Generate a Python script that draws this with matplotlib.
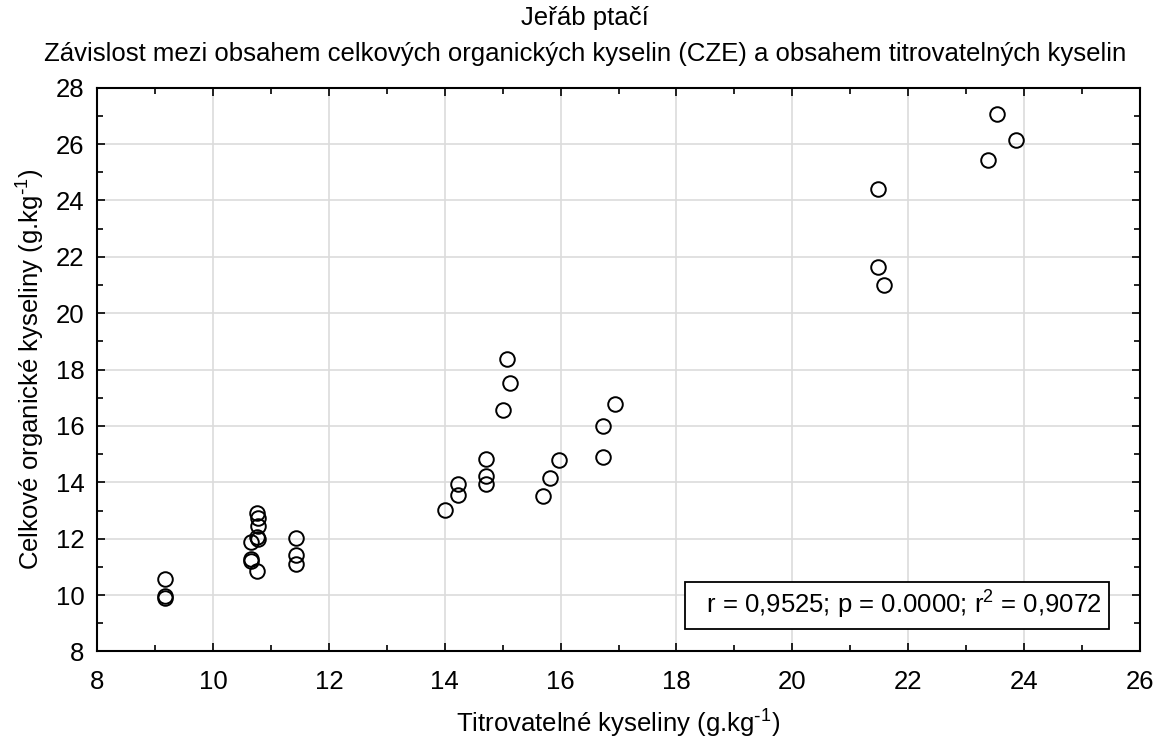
import matplotlib
matplotlib.use("Agg")
import matplotlib.pyplot as plt
from matplotlib.ticker import MultipleLocator

plt.rcParams['font.family'] = ['Liberation Sans', 'DejaVu Sans']
plt.rcParams['mathtext.default'] = 'regular'

# titratable acids vs total organic acids (CZE), g/kg
titr = [9.17, 9.17, 9.17,
        10.76, 10.77, 10.77, 10.65, 10.78, 10.76, 10.65, 10.66, 10.76,
        11.43, 11.43, 11.43,
        14.01, 14.23, 14.23, 14.71, 14.71, 14.71,
        15.07, 15.13, 15.01,
        15.70, 15.82, 15.97,
        16.73, 16.73, 16.94,
        21.47, 21.47, 21.58,
        23.38, 23.53, 23.86]
total = [10.57, 9.96, 9.88,
         12.92, 12.75, 12.45, 11.88, 12.00, 12.05, 11.28, 11.22, 10.87,
         12.03, 11.44, 11.11,
         13.01, 13.95, 13.56, 14.82, 14.22, 13.93,
         18.39, 17.54, 16.57,
         13.50, 14.15, 14.79,
         16.00, 14.91, 16.77,
         24.42, 21.63, 21.01,
         25.45, 27.07, 26.15]

stats_text = "  r = 0,9525; p = 0.0000; r$^2$ = 0,9072"
FS = 18.5

fig = plt.figure(figsize=(11.58, 7.42), dpi=100)
ax = fig.add_axes([0.0838, 0.122, 0.9007, 0.7598])

ax.plot(titr, total, linestyle='none', marker='o', markersize=10.5,
        markerfacecolor='none', markeredgecolor='black', markeredgewidth=1.4)

ax.set_xlim(8, 26)
ax.set_ylim(8, 28)
ax.xaxis.set_major_locator(MultipleLocator(2))
ax.xaxis.set_minor_locator(MultipleLocator(1))
ax.yaxis.set_major_locator(MultipleLocator(2))
ax.yaxis.set_minor_locator(MultipleLocator(1))
ax.tick_params(which='both', direction='in', top=True, right=True,
               labelsize=FS, width=1.2)
ax.tick_params(axis='x', pad=13)
ax.tick_params(axis='y', pad=9)
ax.tick_params(which='major', length=6)
ax.tick_params(which='minor', length=4)
ax.grid(True, which='major', color='#dcdcdc', linewidth=1.2)
ax.set_axisbelow(True)
for sp in ax.spines.values():
    sp.set_linewidth(1.5)

ax.set_xlabel(r"Titrovatelné kyseliny (g.kg$^{\text{-}1}$)", fontsize=FS, labelpad=10)
ax.set_ylabel(r"Celkové organické kyseliny (g.kg$^{\text{-}1}$)", fontsize=FS, labelpad=6)

fig.text(0.505, 0.992, "Jeřáb ptačí", ha='center', va='top', fontsize=FS)
fig.text(0.505, 0.943, "Závislost mezi obsahem celkových organických kyselin (CZE) a obsahem titrovatelných kyselin",
         ha='center', va='top', fontsize=FS)

ax.text(0.9636, 0.082, stats_text, transform=ax.transAxes, ha='right', va='center',
        fontsize=FS, bbox=dict(boxstyle='square,pad=0.28', facecolor='white',
                               edgecolor='black', linewidth=1.3))

fig.savefig("out.png", dpi=100)
